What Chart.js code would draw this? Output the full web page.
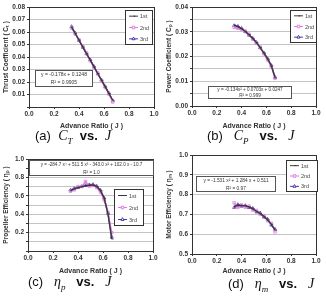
<!DOCTYPE html>
<html>
<head>
<meta charset="utf-8">
<script src="https://cdn.jsdelivr.net/npm/chart.js"></script>
<style>
body { margin: 0; background: #fff; width: 326px; height: 297px; position: relative; overflow: hidden; }
canvas { position: absolute; }
.cap { position: absolute; font-family: "Liberation Sans", Arial, sans-serif; font-size: 13px; color: #111; white-space: nowrap; }
.cap i { font-family: "Liberation Serif", "DejaVu Serif", serif; font-size: 14px; }
.cap sub { font-size: 9px; }
.cap b { font-weight: bold; }
</style>
</head>
<body>
<canvas id="chA" width="163" height="130" style="left:0;top:0"></canvas>
<canvas id="chB" width="163" height="130" style="left:163px;top:0"></canvas>
<canvas id="chC" width="163" height="127" style="left:0;top:148px"></canvas>
<canvas id="chD" width="163" height="127" style="left:163px;top:148px"></canvas>

<div class="cap" style="left:35px;top:128px">(a)&nbsp;&nbsp;<i>C<sub>T</sub></i>&nbsp;&nbsp;<b>vs.</b>&nbsp;&nbsp;<i>J</i></div>
<div class="cap" style="left:207px;top:128px">(b)&nbsp;&nbsp;&nbsp;<i>C<sub>P</sub></i>&nbsp;&nbsp;&nbsp;<b>vs.</b>&nbsp;&nbsp;&nbsp;<i>J</i></div>
<div class="cap" style="left:28px;top:274px">(c)&nbsp;&nbsp;&nbsp;<i>η<sub>p</sub></i>&nbsp;&nbsp;&nbsp;<b>vs.</b>&nbsp;&nbsp;&nbsp;<i>J</i></div>
<div class="cap" style="left:228px;top:276px">(d)&nbsp;&nbsp;&nbsp;<i>η<sub>m</sub></i>&nbsp;&nbsp;&nbsp;<b>vs.</b>&nbsp;&nbsp;&nbsp;<i>J</i></div>

<script>
// advance ratio J (same test points for all runs)
var advJ = [0.34, 0.37, 0.40, 0.43, 0.46, 0.49, 0.52, 0.55, 0.58, 0.61, 0.64, 0.67];
var runLabels = ['1st', '2nd', '3rd'];
var xTicks = [0.0, 0.2, 0.4, 0.6, 0.8, 1.0];

// (a) thrust coefficient
var ctRun1 = [0.0640, 0.0588, 0.0535, 0.0481, 0.0428, 0.0375, 0.0321, 0.0268, 0.0214, 0.0161, 0.0107, 0.0054];
var ctRun2 = [0.0632, 0.0583, 0.0538, 0.0486, 0.0433, 0.0370, 0.0317, 0.0272, 0.0209, 0.0156, 0.0103, 0.0040];
var ctRun3 = [0.0644, 0.0591, 0.0532, 0.0478, 0.0425, 0.0378, 0.0324, 0.0265, 0.0217, 0.0163, 0.0110, 0.0050];

// (b) power coefficient
var cpRun1 = [0.0327, 0.0321, 0.0312, 0.0301, 0.0288, 0.0273, 0.0256, 0.0236, 0.0214, 0.0190, 0.0162, 0.0114];
var cpRun2 = [0.0318, 0.0314, 0.0309, 0.0303, 0.0290, 0.0270, 0.0254, 0.0238, 0.0211, 0.0186, 0.0159, 0.0112];
var cpRun3 = [0.0325, 0.0322, 0.0314, 0.0300, 0.0286, 0.0274, 0.0257, 0.0235, 0.0215, 0.0191, 0.0164, 0.0116];

// (c) propeller efficiency
var epRun1 = [0.655, 0.675, 0.690, 0.700, 0.708, 0.715, 0.718, 0.700, 0.655, 0.570, 0.400, 0.130];
var epRun2 = [0.650, 0.665, 0.700, 0.700, 0.755, 0.705, 0.712, 0.690, 0.640, 0.555, 0.420, 0.200];
var epRun3 = [0.662, 0.680, 0.688, 0.702, 0.712, 0.720, 0.724, 0.705, 0.660, 0.575, 0.410, 0.150];

// (d) motor efficiency
var emRun1 = [0.740, 0.746, 0.745, 0.743, 0.738, 0.728, 0.716, 0.704, 0.690, 0.672, 0.650, 0.620];
var emRun2 = [0.758, 0.735, 0.748, 0.736, 0.742, 0.722, 0.720, 0.700, 0.694, 0.668, 0.655, 0.612];
var emRun3 = [0.735, 0.750, 0.741, 0.745, 0.734, 0.731, 0.712, 0.708, 0.686, 0.676, 0.646, 0.625];

var runColors = ['#3a3a3a', '#e27be2', '#4a3aa8'];
var runPoints = ['dash', 'rect', 'triangle'];

Chart.defaults.font.family = '"Liberation Sans", Arial, sans-serif';
Chart.defaults.color = '#333';

function pairs(ys) {
    return advJ.map(function (j, i) { return { x: j, y: ys[i] }; });
}

function runSets(r1, r2, r3) {
    return [r1, r2, r3].map(function (ys, i) {
        return {
            label: runLabels[i],
            data: pairs(ys),
            borderColor: runColors[i],
            backgroundColor: 'rgba(255,255,255,0)',
            borderWidth: 1.4,
            pointStyle: runPoints[i],
            pointRadius: 1.8,
            pointBorderWidth: 0.8,
            tension: 0
        };
    });
}

// frame, trend-line equation and legend boxes
var boxPlugin = {
    id: 'boxes',
    afterDatasetsDraw: function (chart, args, opts) {
        var ctx = chart.ctx, a = chart.chartArea;
        ctx.save();
        ctx.strokeStyle = '#333';
        ctx.lineWidth = 1;
        ctx.strokeRect(Math.round(a.left) + 0.5, Math.round(a.top) + 0.5, Math.round(a.right - a.left), Math.round(a.bottom - a.top));

        var e = opts.eq;
        ctx.fillStyle = '#fff';
        ctx.fillRect(e.x, e.y, e.w, e.h);
        ctx.strokeStyle = '#555';
        ctx.strokeRect(e.x + 0.5, e.y + 0.5, e.w, e.h);
        ctx.fillStyle = '#333';
        ctx.font = e.size + 'px "Liberation Sans", Arial, sans-serif';
        ctx.textAlign = 'center';
        ctx.textBaseline = 'middle';
        e.lines.forEach(function (t, i) {
            ctx.fillText(t, e.x + e.w / 2 + 0.5, e.y + e.h * (i + 0.5) / e.lines.length + 1);
        });

        var l = opts.leg;
        ctx.fillStyle = '#fff';
        ctx.fillRect(l.x, l.y, l.w, l.h);
        ctx.strokeStyle = '#333';
        ctx.strokeRect(l.x + 0.5, l.y + 0.5, l.w, l.h);
        ctx.font = '5.5px "Liberation Sans", Arial, sans-serif';
        ctx.textAlign = 'left';
        chart.data.datasets.forEach(function (ds, i) {
            var cy = l.y + l.h * (i + 0.5) / 3 + 0.5;
            ctx.strokeStyle = ds.borderColor;
            ctx.lineWidth = 1;
            ctx.beginPath();
            ctx.moveTo(l.x + 4, cy);
            ctx.lineTo(l.x + 13, cy);
            ctx.stroke();
            ctx.fillStyle = '#fff';
            Chart.helpers.drawPoint(ctx, { pointStyle: ds.pointStyle, radius: 1.8, borderWidth: 0.8, rotation: 0 }, l.x + 8.5, cy);
            ctx.fillStyle = '#444';
            ctx.fillText(ds.label, l.x + 15, cy + 0.5);
        });
        ctx.restore();
    }
};

function makeChart(id, sets, yOpt, area, xLabelH, boxes) {
    var el = document.getElementById(id);
    return new Chart(el, {
        type: 'line',
        data: { datasets: sets },
        plugins: [boxPlugin],
        options: {
            responsive: false,
            animation: false,
            devicePixelRatio: 1,
            layout: {
                autoPadding: false,
                padding: { left: 0, top: area.top, right: el.width - area.right, bottom: 0 }
            },
            plugins: {
                legend: { display: false },
                tooltip: { enabled: false },
                boxes: boxes
            },
            scales: {
                x: {
                    type: 'linear',
                    min: 0, max: 1,
                    afterBuildTicks: function (s) { s.ticks = xTicks.map(function (v) { return { value: v }; }); },
                    afterFit: function (s) { s.height = el.height - area.bottom; },
                    grid: { drawOnChartArea: false, tickLength: 2, tickColor: '#333' },
                    border: { color: '#333' },
                    ticks: {
                        padding: 1, maxRotation: 0, autoSkip: false,
                        font: { size: 6.5, weight: 'bold' },
                        callback: function (v) { return v.toFixed(1); }
                    },
                    title: {
                        display: true, text: 'Advance Ratio ( J )',
                        padding: { top: xLabelH, bottom: 0 },
                        font: { size: 7, weight: 'bold' }
                    }
                },
                y: {
                    min: yOpt.min, max: yOpt.max,
                    afterFit: function (s) { s.width = area.left; },
                    grid: { color: '#c4c4c4', tickLength: 2, tickColor: '#333' },
                    border: { color: '#333' },
                    ticks: {
                        stepSize: yOpt.step, padding: 2, autoSkip: false,
                        font: { size: 6.5, weight: 'bold' },
                        callback: yOpt.label
                    },
                    title: {
                        display: true, text: yOpt.title,
                        padding: { top: 2, bottom: 0 },
                        font: { size: 6.5, weight: 'bold' }
                    }
                }
            }
        }
    });
}

makeChart('chA', runSets(ctRun1, ctRun2, ctRun3), {
    min: 0, max: 0.08, step: 0.01, title: 'Thrust Coefficient ( Cₜ )',
    label: function (v) { var k = Math.round(v * 100); return k === 0 ? '' : (k / 100).toFixed(2); }
}, { left: 29, right: 154, top: 7, bottom: 107 }, 1, {
    eq: { x: 35, y: 70, w: 57, h: 16, size: 5, lines: ['y = -0.178x + 0.1248', 'R² = 0.9905'] },
    leg: { x: 125, y: 10, w: 27, h: 34 }
});

makeChart('chB', runSets(cpRun1, cpRun2, cpRun3), {
    min: 0, max: 0.04, step: 0.005, title: 'Power Coefficient ( Cₚ )',
    label: function (v) { var k = Math.round(v * 1000); return k % 10 === 0 ? (k / 1000).toFixed(2) : ''; }
}, { left: 29, right: 153, top: 7, bottom: 106 }, 1, {
    eq: { x: 45, y: 86, w: 83, h: 12, size: 4.6, lines: ['y = -0.134x² + 0.0703x + 0.0247', 'R² = 0.999'] },
    leg: { x: 127, y: 10, w: 26, h: 32 }
});

makeChart('chC', runSets(epRun1, epRun2, epRun3), {
    min: 0, max: 1, step: 0.1, title: 'Propeller Efficiency ( ηₚ )',
    label: function (v) { var k = Math.round(v * 10); return (k % 2 === 0 && k > 0) ? (k / 10).toFixed(1) : ''; }
}, { left: 28, right: 153, top: 11, bottom: 103 }, 1, {
    eq: { x: 29, y: 12, w: 124, h: 15, size: 4.6, lines: ['y = -284.7 x⁴ + 511.5 x³ - 343.0 x² + 102.0 x - 10.7', 'R² = 1.0'] },
    leg: { x: 114, y: 41, w: 29, h: 36 }
});

makeChart('chD', runSets(emRun1, emRun2, emRun3), {
    min: 0.5, max: 1, step: 0.1, title: 'Motor Efficiency ( ηₘ )',
    label: function (v) { return v.toFixed(1); }
}, { left: 29, right: 153, top: 7, bottom: 106 }, 0, {
    eq: { x: 33, y: 28, w: 79, h: 15, size: 4.8, lines: ['y = -1.531 x² + 1.284 x + 0.511', 'R² = 0.97'] },
    leg: { x: 123, y: 12, w: 31, h: 31 }
});
</script>
</body>
</html>
